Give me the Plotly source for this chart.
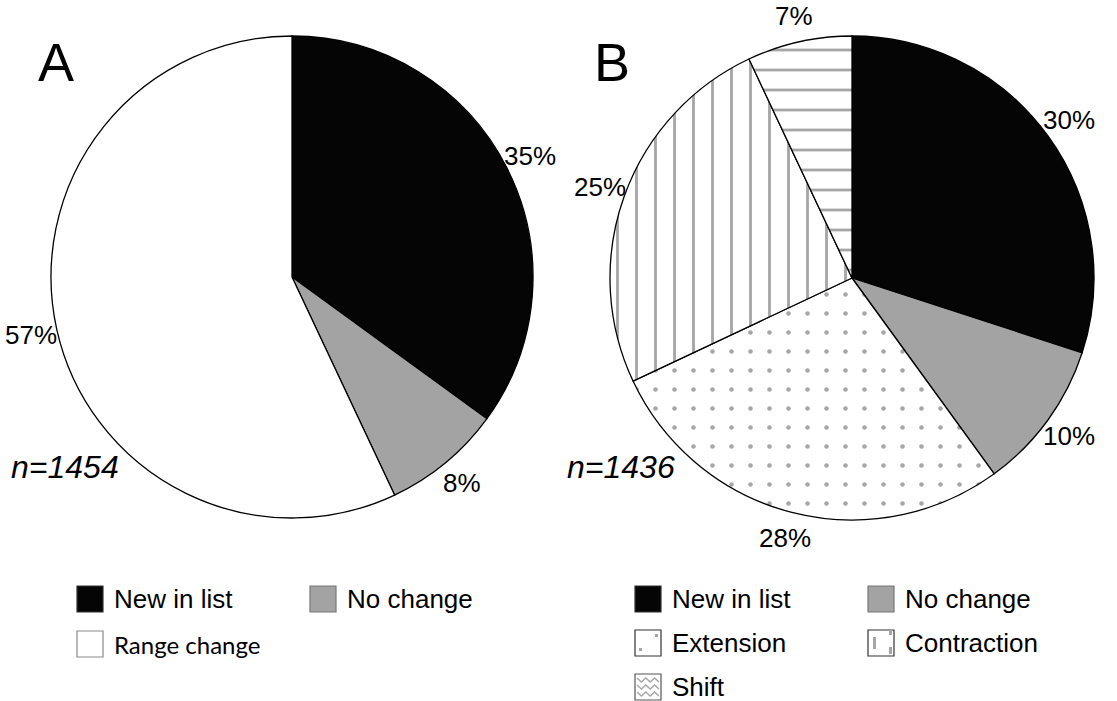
import math
import plotly.graph_objects as go

W, H = 1117, 701

# ---------------- data ----------------
panel_titles = ["A", "B"]
a_labels = ["New in list", "No change", "Range change"]
a_values = [35, 8, 57]
a_n = "n=1454"

b_labels = ["New in list", "No change", "Extension", "Contraction", "Shift"]
b_values = [30, 10, 28, 25, 7]
b_n = "n=1436"

# ---------------- styles ----------------
BLACK = "#050505"
GREY = "#a3a3a3"
PAT = "#a6a6a6"
a_colors = [BLACK, GREY, "#ffffff"]
b_colors = [BLACK, GREY, "#ffffff", "#ffffff", "#ffffff"]
b_shapes = ["", "", ".", "|", "-"]
b_sizes = [10, 10, 19, 19, 20]
b_solid = [0.3, 0.3, 0.045, 0.15, 0.14]

FONT = "Liberation Sans, Arial, sans-serif"


def px(x):
    return x / W


def py(y):
    return 1 - y / H


# pie boxes in pixels: (left, right, top, bottom)
box_a = (51, 533, 36, 518)
box_b = (610, 1094, 36, 520)

fig = go.Figure()
annotations = []
shapes = []


def add_pie(labels, values, colors, box, pattern=None):
    l, r, t, b = box
    marker = dict(colors=colors, line=dict(color="black", width=1.3))
    if pattern is not None:
        marker["pattern"] = pattern
    fig.add_trace(go.Pie(
        labels=labels, values=values, sort=False, direction="clockwise", rotation=0,
        domain=dict(x=[px(l), px(r)], y=[py(b), py(t)]),
        marker=marker, textinfo="none", showlegend=False, hoverinfo="label+percent",
    ))
    # percentage labels placed just outside each slice, at its mid-angle
    cx, cy = (l + r) / 2, (t + b) / 2
    rad = min(r - l, b - t) / 2 + 26
    total = sum(values)
    cum = 0
    for v in values:
        mid = (cum + v / 2) / total * 2 * math.pi
        cum += v
        annotations.append(dict(
            x=px(cx + rad * math.sin(mid)), y=py(cy - rad * math.cos(mid)),
            xref="paper", yref="paper", text=f"{v}%", showarrow=False,
            xanchor="center", yanchor="middle",
            font=dict(family=FONT, size=26, color="black")))


add_pie(a_labels, a_values, a_colors, box_a)
add_pie(b_labels, b_values, b_colors, box_b,
        pattern=dict(shape=b_shapes, fgcolor=PAT, bgcolor="#ffffff",
                     size=b_sizes, solidity=b_solid, fillmode="replace"))

# panel letters and sample sizes
for title, xc in zip(panel_titles, [56, 612]):
    annotations.append(dict(x=px(xc), y=py(62), xref="paper", yref="paper", text=title,
                            showarrow=False, font=dict(family=FONT, size=54, color="black"),
                            xanchor="center", yanchor="middle"))
for n, x0 in zip([a_n, b_n], [9, 565]):
    annotations.append(dict(x=px(x0), y=py(467), xref="paper", yref="paper",
                            text="<i>" + n + "</i>", showarrow=False,
                            font=dict(family=FONT, size=32, color="black"),
                            xanchor="left", yanchor="middle"))


# ---------------- legends (drawn manually) ----------------
def legend_item(x0, y0, label, color, pattern, font_family, font_size, border):
    s = 26
    shapes.append(dict(type="rect", xref="paper", yref="paper",
                       x0=px(x0), x1=px(x0 + s), y0=py(y0 + s), y1=py(y0),
                       fillcolor=color, line=dict(color=border, width=1.2)))
    if pattern == ".":
        for dx, dy in [(20, 4), (4, 18)]:
            shapes.append(dict(type="rect", xref="paper", yref="paper",
                               x0=px(x0 + dx), x1=px(x0 + dx + 3), y0=py(y0 + dy + 3), y1=py(y0 + dy),
                               fillcolor=PAT, line=dict(width=0)))
    elif pattern == "|":
        for dx, dya, dyb in [(5, 7, 19), (21, 0, 5), (21, 17, 24)]:
            shapes.append(dict(type="rect", xref="paper", yref="paper",
                               x0=px(x0 + dx), x1=px(x0 + dx + 3), y0=py(y0 + dyb), y1=py(y0 + dya),
                               fillcolor=PAT, line=dict(width=0)))
    elif pattern == "-":
        for yy in [6, 13, 20]:
            pts = []
            for k in range(0, 6):
                xx = x0 + 2 + k * 4.4
                yv = y0 + yy + (-2 if k % 2 == 0 else 2)
                pts.append(f"{px(xx)},{py(yv)}")
            shapes.append(dict(type="path", xref="paper", yref="paper",
                               path="M" + " L".join(pts), line=dict(color=PAT, width=1.4)))
    annotations.append(dict(x=px(x0 + 35), y=py(y0 + s / 2), xref="paper", yref="paper",
                            text=label, showarrow=False, xanchor="left", yanchor="middle",
                            font=dict(family=font_family, size=font_size, color="black")))


borders_a = ["#333333", "#777777", "#888888"]
fonts_a = [(FONT, 26), (FONT, 26), ("Lato, Carlito, sans-serif", 24)]
for i, lab in enumerate(a_labels):
    col, row = i % 2, i // 2
    legend_item(77 + col * 233, 586 + row * 45, lab, a_colors[i], "", fonts_a[i][0], fonts_a[i][1], borders_a[i])

borders_b = ["#333333", "#777777", "#333333", "#333333", "#555555"]
for i, lab in enumerate(b_labels):
    col, row = i % 2, i // 2
    legend_item(635 + col * 233, 586 + row * 44, lab, b_colors[i], b_shapes[i], FONT, 26, borders_b[i])

fig.update_layout(
    width=W, height=H, margin=dict(l=0, r=0, t=0, b=0),
    paper_bgcolor="white", plot_bgcolor="white",
    annotations=annotations, shapes=shapes, showlegend=False,
)

fig.write_html("out.html", config={"displayModeBar": False},
               post_script="document.body.style.margin='0px';document.body.style.overflow='hidden';")
